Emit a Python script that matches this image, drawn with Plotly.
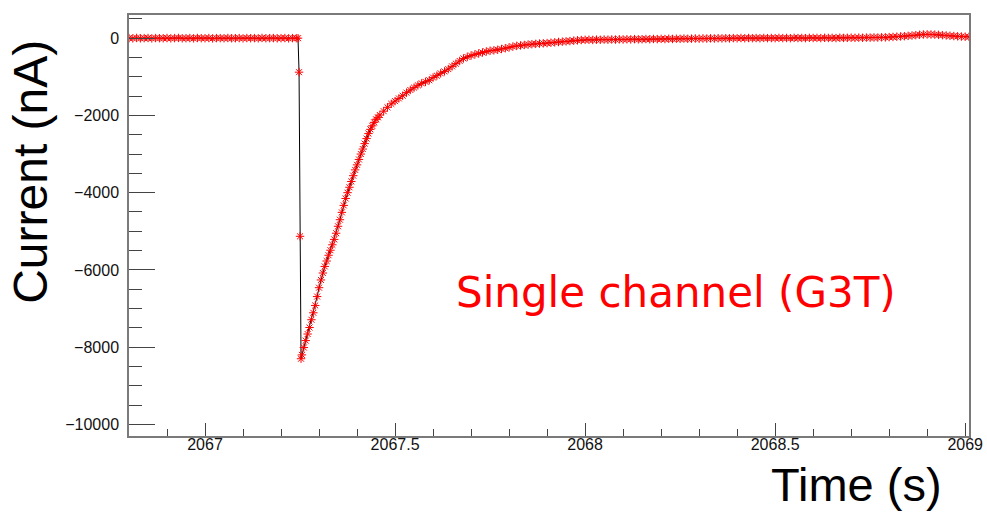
import plotly.graph_objects as go

# ---- data ----
time_baseline = [2066.80, 2066.81, 2066.82, 2066.83, 2066.84, 2066.85, 2066.86, 2066.87, 2066.88, 2066.89,
                 2066.90, 2066.91, 2066.92, 2066.93, 2066.94, 2066.95, 2066.96, 2066.97, 2066.98, 2066.99,
                 2067.00, 2067.01, 2067.02, 2067.03, 2067.04, 2067.05, 2067.06, 2067.07, 2067.08, 2067.09,
                 2067.10, 2067.11, 2067.12, 2067.13, 2067.14, 2067.15, 2067.16, 2067.17, 2067.18, 2067.19,
                 2067.20, 2067.21, 2067.22, 2067.23, 2067.24]
current_baseline = [2, -4, 6, -3, 1, 5, -6, 3, 0, -2,
                    4, -5, 2, 6, -3, -1, 3, -4, 5, 0,
                    -2, 4, -6, 2, 1, -3, 5, -2, 0, 3,
                    -5, 4, -1, 2, -4, 6, -2, 1, 3, -3,
                    0, 4, -5, 2, -1]

time_drop = [2067.2447, 2067.2474, 2067.2500, 2067.2526]
current_drop = [0, -880, -5130, -8300]

time_rise = [2067.255, 2067.260, 2067.265, 2067.270, 2067.275, 2067.280, 2067.285, 2067.290, 2067.295, 2067.300,
             2067.305, 2067.310, 2067.315, 2067.320, 2067.325, 2067.330, 2067.335, 2067.340, 2067.345, 2067.350,
             2067.355, 2067.360, 2067.365, 2067.370, 2067.375, 2067.380, 2067.385, 2067.390, 2067.395, 2067.400,
             2067.405, 2067.410, 2067.415, 2067.420, 2067.425, 2067.430, 2067.435, 2067.440, 2067.445, 2067.450,
             2067.455, 2067.460]
current_rise = [-8200, -8010, -7830, -7660, -7490, -7290, -7110, -6920, -6690, -6460,
                -6260, -6080, -5910, -5770, -5620, -5490, -5350, -5210, -5050, -4870,
                -4700, -4510, -4330, -4150, -4000, -3860, -3710, -3560, -3410, -3280,
                -3140, -3000, -2870, -2730, -2600, -2470, -2360, -2270, -2180, -2100,
                -2050, -1990]

time_tail = [2067.47, 2067.48, 2067.49, 2067.50, 2067.51, 2067.52, 2067.53, 2067.54, 2067.55, 2067.56,
             2067.57, 2067.58, 2067.59, 2067.60, 2067.61, 2067.62, 2067.63, 2067.64, 2067.65, 2067.66,
             2067.67, 2067.68, 2067.69, 2067.70, 2067.71, 2067.72, 2067.73, 2067.74, 2067.75, 2067.76,
             2067.77, 2067.78, 2067.79, 2067.80, 2067.81, 2067.82, 2067.83, 2067.84, 2067.85, 2067.86,
             2067.87, 2067.88, 2067.89, 2067.90, 2067.91, 2067.92, 2067.93, 2067.94, 2067.95, 2067.96,
             2067.97, 2067.98, 2067.99,
             2068.00, 2068.01, 2068.02, 2068.03, 2068.04, 2068.05, 2068.06, 2068.07, 2068.08, 2068.09,
             2068.10, 2068.11, 2068.12, 2068.13, 2068.14, 2068.15, 2068.16, 2068.17, 2068.18, 2068.19,
             2068.20, 2068.21, 2068.22, 2068.23, 2068.24, 2068.25, 2068.26, 2068.27, 2068.28, 2068.29,
             2068.30, 2068.31, 2068.32, 2068.33, 2068.34, 2068.35, 2068.36, 2068.37, 2068.38, 2068.39,
             2068.40, 2068.41, 2068.42, 2068.43, 2068.44, 2068.45, 2068.46, 2068.47, 2068.48, 2068.49,
             2068.50, 2068.51, 2068.52, 2068.53, 2068.54, 2068.55, 2068.56, 2068.57, 2068.58, 2068.59,
             2068.60, 2068.61, 2068.62, 2068.63, 2068.64, 2068.65, 2068.66, 2068.67, 2068.68, 2068.69,
             2068.70, 2068.71, 2068.72, 2068.73, 2068.74, 2068.75, 2068.76, 2068.77, 2068.78, 2068.79,
             2068.80, 2068.81, 2068.82, 2068.83, 2068.84, 2068.85, 2068.86, 2068.87, 2068.88, 2068.89,
             2068.90, 2068.91, 2068.92, 2068.93, 2068.94, 2068.95, 2068.96, 2068.97, 2068.98, 2068.99,
             2069.00, 2069.01]
current_tail = [-1890, -1790, -1700, -1630, -1560, -1490, -1410, -1340, -1280, -1220,
                -1170, -1130, -1090, -1020, -970, -910, -860, -800, -730, -660,
                -590, -525, -485, -450, -420, -395, -370, -345, -325, -315,
                -300, -280, -260, -240, -216, -200, -188, -176, -165, -155,
                -148, -140, -133, -127, -118, -108, -98, -90, -82, -75,
                -65, -55, -48,
                -44, -40, -46, -38, -42, -35, -40, -33, -37, -30,
                -34, -28, -32, -25, -30, -27, -22, -28, -20, -24,
                -18, -23, -15, -20, -14, -18, -10, -16, -12, -8,
                -13, -6, -10, -4, -9, -2, -7, 0, -5, 2,
                -3, 4, -2, 5, 0, 3, -2, 6, 1, 4,
                0, 7, 2, 5, -1, 8, 3, 6, 1, 9,
                4, 7, 2, 10, 5, 8, 3, 11, 6, 9,
                12, 8, 14, 10, 16, 13, 19, 16, 23, 21,
                28, 32, 38, 45, 52, 60, 68, 78, 88, 95,
                98, 96, 92, 86, 78, 70, 62, 55, 48, 42,
                38, 35]

time_s = time_baseline + time_drop + time_rise + time_tail
current_nA = current_baseline + current_drop + current_rise + current_tail

x_title = "Time (s)"
y_title = "Current (nA)"
label_text = "Single channel (G3T)"

# ---- figure ----
W, H = 987, 519
L, T = 129, 15
pw, ph = 840, 421.5
R = W - L - pw
B = H - T - ph

fig = go.Figure()
fig.add_trace(go.Scatter(
    x=time_s, y=current_nA, mode="lines+markers",
    line=dict(color="black", width=1),
    marker=dict(symbol="asterisk-open", size=7, color="red",
                line=dict(color="red", width=1)),
    showlegend=False, hoverinfo="skip",
))

tickfont = dict(family="Liberation Sans, Arial, sans-serif", size=16, color="#111")
axcol = "#7a7a7a"
tickcol = "#444"

fig.update_xaxes(
    range=[2066.8, 2069.01], tickmode="linear", tick0=2067, dtick=0.5, tickformat=".1~f",
    ticks="inside", ticklen=13, tickwidth=1, tickcolor=tickcol, ticklabelstandoff=-7,
    ticklabeloverflow="allow",
    minor=dict(tick0=2067, dtick=0.1, ticks="inside", ticklen=7, tickwidth=1, tickcolor=tickcol, showgrid=False),
    showgrid=False, zeroline=False, showline=True, linecolor=axcol, linewidth=1.5, mirror=True,
    tickfont=tickfont,
)
fig.update_yaxes(
    range=[-10300, 600], tickmode="linear", tick0=0, dtick=2000, tickformat="d",
    ticks="inside", ticklen=26, tickwidth=1, tickcolor=tickcol, ticklabelstandoff=5,
    minor=dict(tick0=0, dtick=500, ticks="inside", ticklen=13, tickwidth=1, tickcolor=tickcol, showgrid=False),
    showgrid=False, zeroline=False, showline=True, linecolor=axcol, linewidth=1.5, mirror=True,
    tickfont=tickfont,
)

# positions given in window pixels, converted to paper fractions
def px_x(x):
    return (x - L) / pw

def px_y(y):
    return (T + ph - y) / ph

fig.add_annotation(text=y_title, xref="paper", yref="paper", x=px_x(31), y=px_y(172),
                   showarrow=False, textangle=-90, xanchor="center", yanchor="middle",
                   font=dict(family="Liberation Sans, Arial, sans-serif", size=48, color="black"))
fig.add_annotation(text=x_title, xref="paper", yref="paper", x=px_x(856), y=px_y(485),
                   showarrow=False, xanchor="center", yanchor="middle",
                   font=dict(family="Liberation Sans, Arial, sans-serif", size=47, color="black"))
fig.add_annotation(text=label_text, xref="paper", yref="paper", x=px_x(676), y=px_y(293),
                   showarrow=False, xanchor="center", yanchor="middle",
                   font=dict(family="DejaVu Sans, sans-serif", size=42, color="red"))

fig.update_layout(
    width=W, height=H, margin=dict(l=L, r=R, t=T, b=B, autoexpand=False),
    paper_bgcolor="white", plot_bgcolor="white",
)

# remove the default page margin so the figure fills the window exactly
page_js = ("document.body.style.margin='0';"
           "document.body.style.overflow='hidden';"
           "document.documentElement.style.overflow='hidden';")
fig.write_html("out.html", post_script=page_js, config={"displayModeBar": False})
